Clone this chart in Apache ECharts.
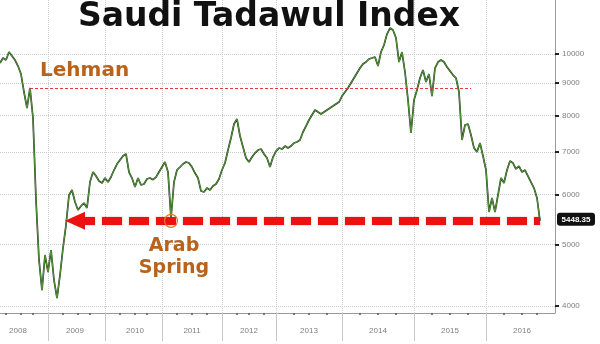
<!DOCTYPE html>
<html>
<head>
<meta charset="utf-8">
<script src="https://cdn.jsdelivr.net/npm/echarts@6/dist/echarts.min.js"></script>
<style>
html,body{margin:0;padding:0;background:#fff;}
#chart{width:600px;height:344px;}
</style>
</head>
<body>
<div id="chart"></div>
<script>
// ---- data ----
const titleText = 'Saudi Tadawul Index';
const sampleCount = 186;                       // samples along the time axis (index positions)
const yearLabels   = ['2008','2009','2010','2011','2012','2013','2014','2015','2016'];
const yearStartIdx = [16, 35, 54, 74, 92, 114, 138, 162];
const yearLabelIdx = [6, 25, 45, 64, 83, 103, 126, 150, 174];
const yTickValues  = [4000, 5000, 6000, 7000, 8000, 9000, 10000];
const yMin = 3896, yMax = 12173;
const indexValues = [
 9678, 9855, 9784, 10073, 9928, 9784, 9573, 9298, 8708, 8215,
 8837, 7922, 5878, 4726, 4233, 4812, 4521, 4900, 4391, 4112,
 4472, 4936, 5366, 5986, 6096, 5835, 5668, 5751, 5814, 5709,
 6276, 6508, 6414, 6299, 6253, 6368, 6276, 6391, 6556, 6701,
 6799, 6898, 6950, 6508, 6368, 6163, 6368, 6208, 6230, 6345,
 6368, 6330, 6390, 6508, 6628, 6750, 6508, 5505, 6276, 6556,
 6628, 6701, 6750, 6725, 6628, 6485, 6368, 6074, 6052, 6140,
 6096, 6185, 6230, 6345, 6556, 6725, 7050, 7366, 7751, 7893,
 7420, 7128, 6848, 6750, 6873, 6974, 7050, 7076, 6949, 6848,
 6628, 6873, 7025, 7102, 7076, 7154, 7102, 7154, 7233, 7259,
 7312, 7529, 7695, 7865, 8009, 8156, 8096, 8038, 8096, 8156,
 8215, 8275, 8336, 8397, 8582, 8708, 8837, 9000, 9164, 9332,
 9503, 9642, 9713, 9820, 9855, 9891, 9573, 10073, 10333, 10755,
 10992, 10913, 10600, 9713, 10073, 9366, 8458, 7501, 8458, 8772,
 9164, 9434, 9032, 9298, 8582, 9503, 9713, 9784, 9713, 9538,
 9400, 9264, 9164, 8708, 7312, 7723, 7751, 7447, 7102, 7000,
 7233, 6898, 6556, 5627, 5921, 5627, 5986, 6368, 6253, 6556,
 6774, 6725, 6580, 6652, 6508, 6556, 6414, 6276, 6140, 5921,
 5448.35
];
const lehmanIdx = 10, lehmanEndIdx = 157, lehmanLevel = 8837;
const arabSpringIdx = 57;
const arrowStartIdx = 25;
const lastIdx = indexValues.length - 1;
const lastValue = indexValues[lastIdx];

// ---- build ----
const lg = v => Math.log10(v);
const categories = Array.from({length: sampleCount}, (_, i) => String(i));
const logData = indexValues.map(lg);
const yearStartSet = new Set(yearStartIdx);
const yearLabelMap = new Map(yearLabelIdx.map((idx, k) => [idx, yearLabels[k]]));
const bounds = [-3].concat(yearStartIdx, [sampleCount - 1]);
const minorSet = new Set();
for (let k = 0; k < bounds.length - 1; k++) {
  const a = bounds[k], b = bounds[k + 1];
  for (let q = 1; q < 4; q++) {
    const t = Math.round(a + (b - a) * q / 4);
    if (t >= 0) minorSet.add(t);
  }
}

const chart = echarts.init(document.getElementById('chart'), null, {renderer: 'canvas'});
const option = {
  animation: false,
  backgroundColor: '#ffffff',
  grid: {left: 0, right: 45, top: 0, bottom: 31, containLabel: false},
  xAxis: [{
    type: 'category', data: categories, boundaryGap: false, position: 'bottom',
    axisLine: {show: true, lineStyle: {color: '#9a9a9a', width: 1}},
    axisTick: {show: true, interval: i => yearStartSet.has(i), length: 28, lineStyle: {color: '#c8c8c8', width: 1}},
    axisLabel: {show: true, interval: i => yearLabelMap.has(i), formatter: (v, i) => yearLabelMap.get(i) || '',
      margin: 14, fontSize: 8, color: '#808080', fontFamily: 'Liberation Sans'},
    splitLine: {show: true, interval: i => yearStartSet.has(i), lineStyle: {color: '#cdcdcd', type: 'dotted', width: 1}}
  }, {
    type: 'category', data: categories, boundaryGap: false, position: 'bottom', offset: 0,
    axisLine: {show: false},
    axisTick: {show: true, interval: i => minorSet.has(i), length: 2, lineStyle: {color: '#555', width: 1.5}},
    axisLabel: {show: false}, splitLine: {show: false}
  }],
  yAxis: {
    type: 'value', position: 'right', min: lg(yMin), max: lg(yMax),
    axisLine: {show: true, lineStyle: {color: '#9a9a9a', width: 1}},
    axisTick: {show: true, customValues: yTickValues.map(lg), length: 4, lineStyle: {color: '#222', width: 2}},
    axisLabel: {show: true, customValues: yTickValues.map(lg), formatter: v => String(Math.round(Math.pow(10, v))),
      margin: 7, fontSize: 8, color: '#808080', fontFamily: 'Liberation Sans'},
    splitLine: {show: true, lineStyle: {color: '#cdcdcd', type: 'dotted', width: 1}}
  },
  series: [{
    type: 'line', data: logData, symbol: 'none', z: 3,
    lineStyle: {color: '#1d3314', width: 1.7},
    markLine: {
      silent: true, symbol: ['none', 'none'], label: {show: false},
      lineStyle: {color: '#e23b3b', type: [3, 2], width: 1},
      data: [[{coord: [lehmanIdx, lg(lehmanLevel)]}, {coord: [lehmanEndIdx, lg(lehmanLevel)]}]]
    },
    markPoint: {
      silent: true, label: {show: false},
      data: [{coord: [arabSpringIdx, lg(lastValue)], symbol: 'circle', symbolSize: 13,
        itemStyle: {color: 'rgba(0,0,0,0)', borderColor: '#e07a2a', borderWidth: 1.2}}]
    }
  }, {
    type: 'line', data: logData, symbol: 'none', z: 4,
    lineStyle: {color: '#6cc24a', width: 0.7},
    markLine: {
      silent: true, label: {show: false}, z: 5,
      symbol: ['triangle', 'none'], symbolSize: [18, 20],
      lineStyle: {color: '#ee1111', type: [20, 7], width: 8, shadowColor: 'rgba(80,0,0,0.35)', shadowBlur: 2},
      itemStyle: {color: '#ee1111'},
      data: [[{coord: [arrowStartIdx, lg(lastValue)]}, {coord: [lastIdx, lg(lastValue)]}]]
    }
  }],
  graphic: [
    {type: 'text', x: 269, y: 1, z: 10,
      style: {text: titleText, fill: '#111', font: 'bold 33px "DejaVu Sans"', textAlign: 'center', textVerticalAlign: 'top'}},
    {type: 'text', x: 40, y: 61, z: 10,
      style: {text: 'Lehman', fill: '#b8621a', font: 'bold 20px "DejaVu Sans"', textAlign: 'left', textVerticalAlign: 'top'}},
    {type: 'text', x: 174, y: 235, z: 10,
      style: {text: 'Arab\nSpring', fill: '#b8621a', font: 'bold 19px "DejaVu Sans"', textAlign: 'center', textVerticalAlign: 'top', lineHeight: 22}}
  ]
};
chart.setOption(option);

// last-value box at the right axis, placed via the chart's own scale
const p = chart.convertToPixel({xAxisIndex: 0, yAxisIndex: 0}, [lastIdx, lg(lastValue)]);
chart.setOption({graphic: option.graphic.concat([
  {type: 'rect', x: 557, y: p[1] - 8, z: 10, shape: {width: 38, height: 13, r: 3}, style: {fill: '#111'}},
  {type: 'text', x: 576, y: p[1] - 1.5, z: 11,
    style: {text: lastValue.toFixed(2), fill: '#fff', font: 'bold 8px "Liberation Sans"', textAlign: 'center', textVerticalAlign: 'middle'}}
])});
</script>
</body>
</html>
